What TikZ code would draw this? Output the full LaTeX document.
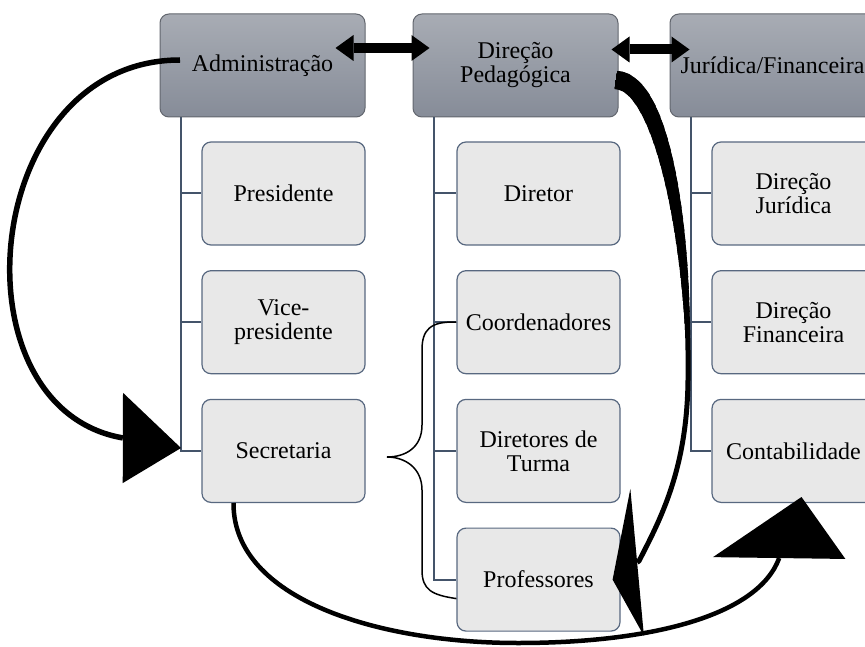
\documentclass[tikz,border=0pt]{standalone}
\usepackage{fontspec}
\setmainfont{Liberation Serif}
\usetikzlibrary{arrows.meta,positioning}
\definecolor{headtop}{RGB}{168,172,180}
\definecolor{headbot}{RGB}{134,140,152}
\definecolor{headline}{RGB}{98,102,110}
\definecolor{itemfill}{RGB}{232,232,232}
\definecolor{itemline}{RGB}{88,104,128}
\definecolor{linkcol}{RGB}{68,84,106}
\tikzset{
  head/.style={draw=headline,line width=1pt,rounded corners=9pt,top color=headtop,bottom color=headbot,
    minimum width=205pt,minimum height=103pt,inner sep=0pt,align=center,font=\fontsize{24}{24}\selectfont},
  item/.style={draw=itemline,line width=1.2pt,rounded corners=9pt,fill=itemfill,
    minimum width=163pt,minimum height=103pt,inner sep=0pt,align=center,font=\fontsize{24}{24}\selectfont},
  link/.style={draw=linkcol,line width=2pt},
  twoway/.style={line width=10pt,{Triangle[length=18pt,width=26pt,line width=0pt]}-{Triangle[length=18pt,width=26pt,line width=0pt]}},
}
\begin{document}
\begin{tikzpicture}[x=1pt,y=-1pt]
\useasboundingbox (0,0) rectangle (865,647);
% headers
\node (adm) [head] at (262.5,65.5) {Administração};
\node (ped) [head] at (515.5,65.5) {Direção\\Pedagógica};
\node (jur) [head] at (772.5,65.5) {Jurídica/Financeira};
% columns
\node (pres) [item] at (283.5,193.5) {Presidente};
\node (vice) [item,below=24.5pt of pres] {Vice-\\presidente};
\node (sec) [item,below=24.5pt of vice] {Secretaria};
\node (dtor) [item] at (538.5,193.5) {Diretor};
\node (coo) [item,below=24.5pt of dtor] {Coordenadores};
\node (turma) [item,below=24.5pt of coo] {Diretores de\\Turma};
\node (prof) [item,below=24.5pt of turma] {Professores};
\node (djur) [item] at (793.5,193.5) {Direção\\Jurídica};
\node (dfin) [item,below=24.5pt of djur] {Direção\\Financeira};
\node (cont) [item,below=24.5pt of dfin] {Contabilidade};
% links
\foreach \c in {pres,vice,sec}
  \draw[link] ([xshift=21pt]adm.south west) |- (\c.west);
\foreach \c in {dtor,coo,turma,prof}
  \draw[link] ([xshift=21pt]ped.south west) |- (\c.west);
\foreach \c in {djur,dfin,cont}
  \draw[link] ([xshift=21pt]jur.south west) |- (\c.west);
% brace
\draw[line width=1.5pt] (coo.west) .. controls (430,321) and (422,330) .. (422,350) -- (422,425)
  .. controls (422,448) and (405,457) .. (387,457) .. controls (405,457) and (422,468) .. (422,490)
  -- (422,570) .. controls (422,590) and (432,595) .. ([yshift=-19pt]prof.west);
% arrows
\draw[twoway] ([xshift=-30pt,yshift=17.5pt]adm.east) -- ([xshift=17pt,yshift=17.5pt]ped.west);
\draw[twoway] ([xshift=-7pt,yshift=16pt]ped.east) -- ([xshift=20pt,yshift=16pt]jur.west);
\coordinate (admout) at (180,60);
\coordinate (secin) at (181,448);
\draw[line width=5.5pt,-{Triangle[length=59pt,width=89pt,slant=-0.17,line width=0pt]}]
  (admout) .. controls (-20,60) and (-50,408) .. (secin);
\coordinate (pedout) at (616,80);
\coordinate (profin) at (639,561);
\def\pedpath{(pedout) .. controls (665,82) and (690,250) .. (688,380) .. controls (687,470) and (660,520) .. (profin)}
\foreach \i in {1,...,24} {
  \pgfmathsetmacro\w{5+14*(1-\i/24)}
  \pgfmathsetmacro\l{11.5*\i}
  \draw[line width=\w pt,dash pattern=on \l pt off 2000pt] \pedpath;
}
\draw[line width=5pt,line join=round,-{Triangle[length=30pt,width=128pt,slant=0.575,line width=0pt]}]
  \pedpath -- ([xshift=-8pt]prof.east);
\draw[line width=4.5pt,-{Triangle[length=65pt,width=125pt,slant=-0.35,line width=0pt]}]
  ([xshift=-50pt]sec.south) .. controls (233,600) and (380,643) .. (518,643)
  .. controls (650,643) and (758,616) .. ([xshift=8pt,yshift=6pt]cont.south);
\end{tikzpicture}
\end{document}
